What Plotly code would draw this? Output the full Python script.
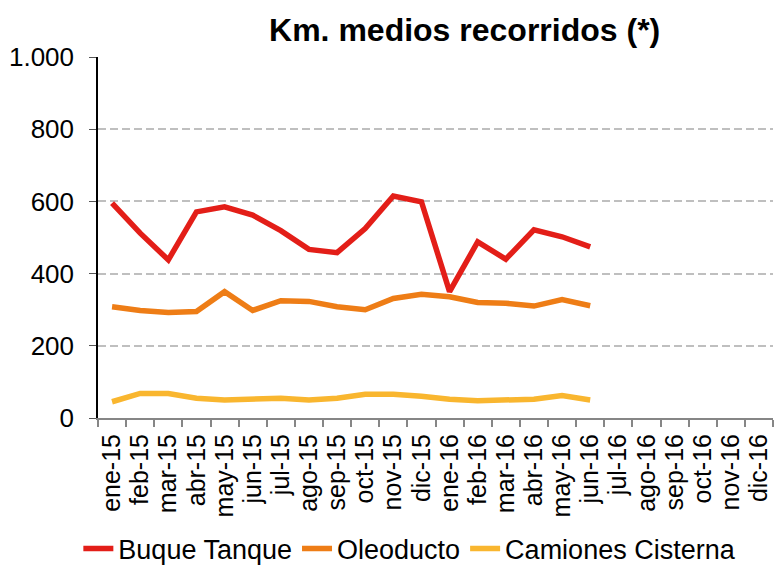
import plotly.graph_objects as go

months = ["ene-15", "feb-15", "mar-15", "abr-15", "may-15", "jun-15", "jul-15", "ago-15",
          "sep-15", "oct-15", "nov-15", "dic-15", "ene-16", "feb-16", "mar-16", "abr-16",
          "may-16", "jun-16", "jul-16", "ago-16", "sep-16", "oct-16", "nov-16", "dic-16"]

buque_tanque = [595, 512, 438, 571, 585, 562, 519, 467, 458, 525, 615, 599,
                350, 488, 440, 521, 502, 474]
oleoducto = [308, 298, 292, 295, 350, 298, 325, 323, 308, 300, 331, 343,
             336, 320, 318, 310, 328, 311]
camiones_cisterna = [45, 68, 68, 55, 50, 52, 55, 50, 55, 66, 66, 60,
                     52, 48, 50, 52, 62, 50]

series = [
    ("Buque Tanque", buque_tanque, "#E31E18"),
    ("Oleoducto", oleoducto, "#EE7D16"),
    ("Camiones Cisterna", camiones_cisterna, "#F9B62F"),
]

fig = go.Figure()
for name, vals, color in series:
    fig.add_trace(go.Scatter(
        x=months[:len(vals)], y=vals, name=name, mode="lines",
        line=dict(color=color, width=5.5),
    ))

font = "Liberation Sans, Arial, sans-serif"
fig.update_layout(
    width=777, height=565,
    margin=dict(l=98, r=4, t=57, b=147),
    paper_bgcolor="white", plot_bgcolor="white",
    separators=",.",
    font=dict(family=font, color="black"),
    title=dict(text="<b>Km. medios recorridos (*)</b>", font=dict(size=32, family=font),
               x=0.598, xref="container", xanchor="center",
               y=0.947, yref="container", yanchor="middle"),
    showlegend=True,
    legend=dict(orientation="h", x=0.462, xanchor="center",
                y=1 - 549 / 565, yref="container", yanchor="middle",
                font=dict(size=27, family=font), itemwidth=30, tracegroupgap=0,
                bgcolor="rgba(0,0,0,0)"),
    xaxis=dict(
        type="category", categoryorder="array", categoryarray=months,
        tickmode="array", tickvals=months, ticktext=months,
        range=[-0.5, 23.5], tickson="boundaries", automargin=False,
        tickangle=-90, tickfont=dict(size=25, family=font), ticklabelstandoff=4,
        showgrid=False, showline=True, linecolor="#868686", linewidth=2,
        ticks="outside", ticklen=7, tickcolor="#868686", tickwidth=1.5,
    ),
    yaxis=dict(
        range=[0, 1000], tickvals=[0, 200, 400, 600, 800, 1000], tickformat=",d",
        tickfont=dict(size=26, family=font), automargin=False, ticklabelstandoff=10,
        showgrid=True, gridcolor="#BFBFBF", griddash="8px,4px", gridwidth=1.5,
        showline=True, linecolor="black", linewidth=1.5,
        ticks="outside", ticklen=7, tickcolor="#555555", zeroline=False,
    ),
)

fig.write_html("out.html", config={"displayModeBar": False},
               post_script="document.body.style.margin='0px';")
